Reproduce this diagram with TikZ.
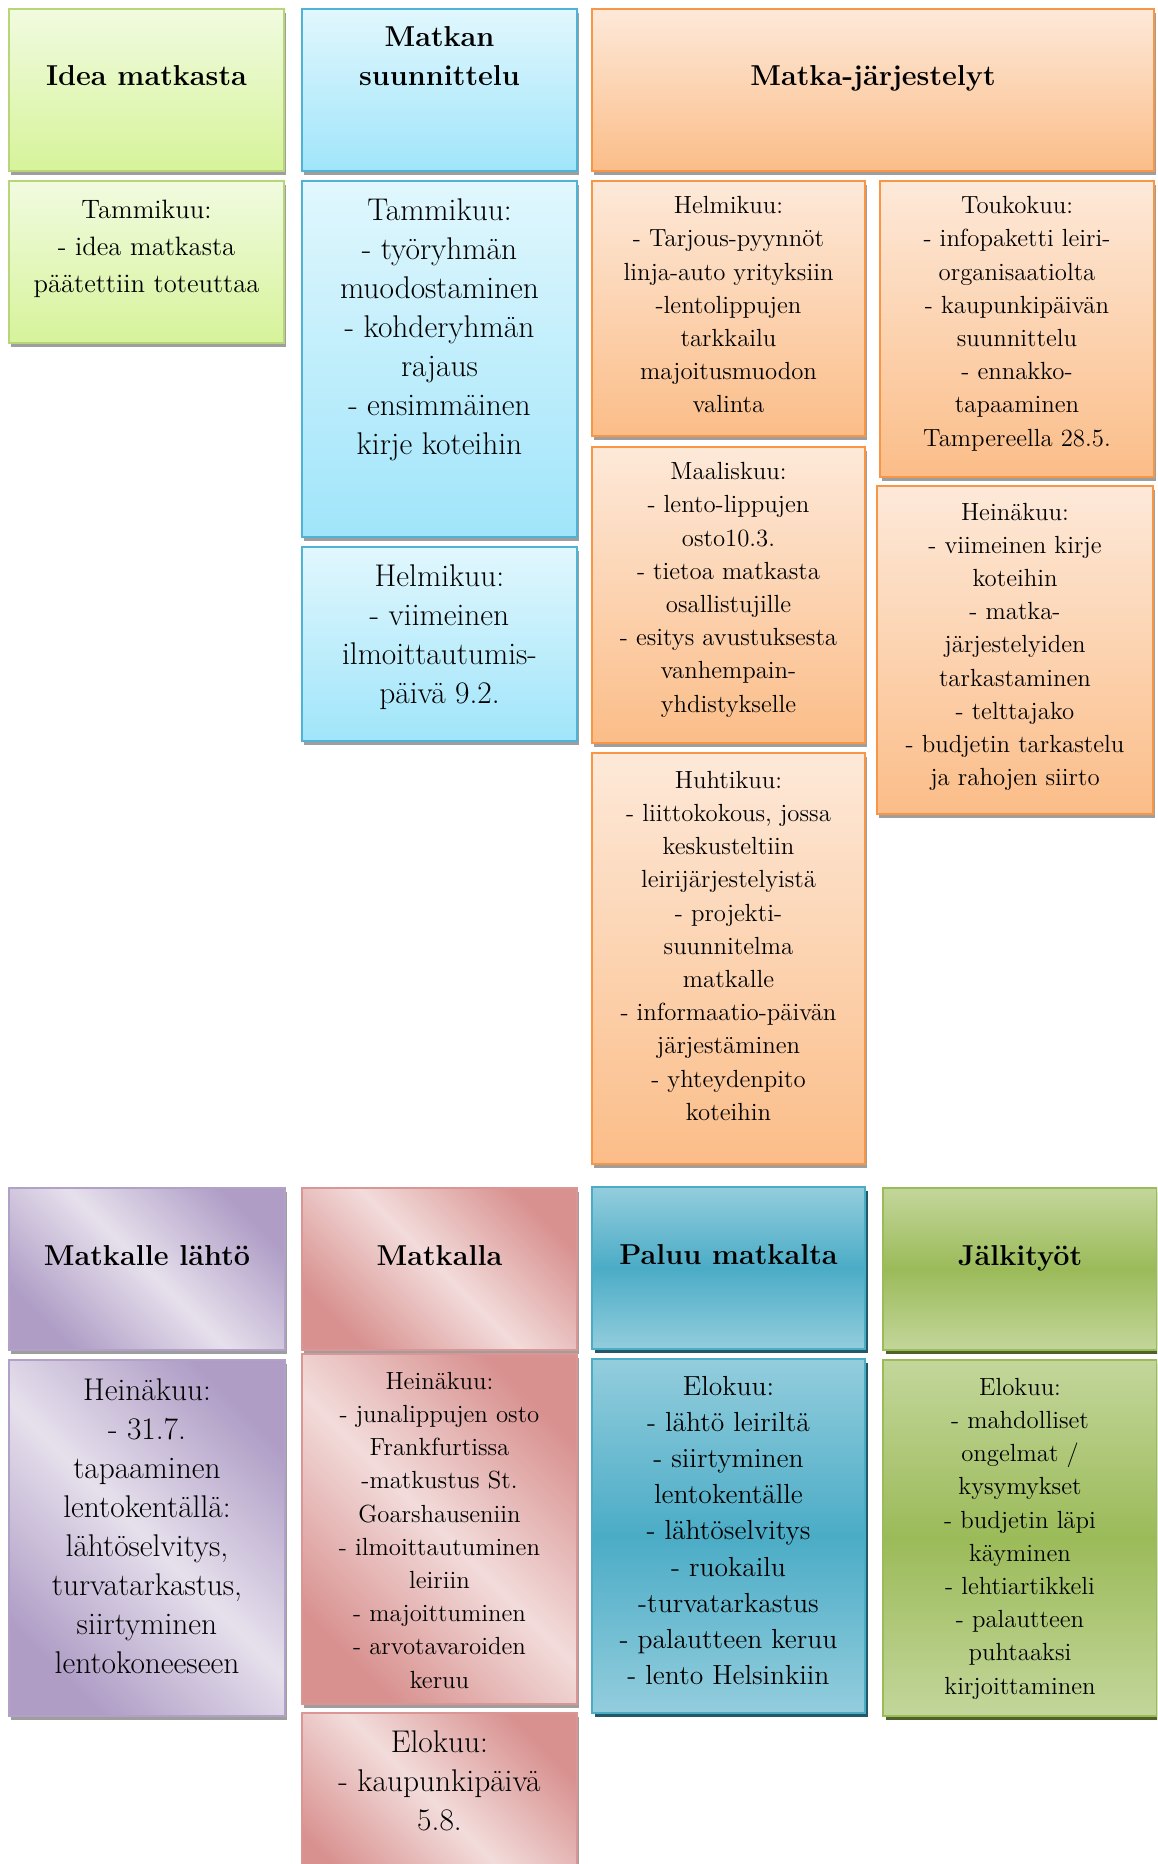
\documentclass[tikz,border=0pt]{standalone}
\usepackage{fontspec}
\usepackage{tikz}
\usetikzlibrary{positioning}
\usetikzlibrary{shadows}
\usepackage{xcolor}

\definecolor{idea_top}{HTML}{F1FBE0}
\definecolor{idea_bot}{HTML}{D6F39A}
\definecolor{idea_line}{HTML}{B9D57A}
\definecolor{plan_top}{HTML}{E1F7FD}
\definecolor{plan_bot}{HTML}{A0E5FA}
\definecolor{plan_line}{HTML}{4FB3D6}
\definecolor{arr_top}{HTML}{FDE9D9}
\definecolor{arr_bot}{HTML}{FBBD88}
\definecolor{arr_line}{HTML}{F79646}
\definecolor{dep_light}{HTML}{E6E0EC}
\definecolor{dep_dark}{HTML}{AF9DC6}
\definecolor{dep_line}{HTML}{B2A1C7}
\definecolor{trip_light}{HTML}{F2DCDB}
\definecolor{trip_dark}{HTML}{D8918F}
\definecolor{trip_line}{HTML}{D99694}
\definecolor{back_light}{HTML}{93CDDD}
\definecolor{back_dark}{HTML}{4BACC6}
\definecolor{back_shadow}{HTML}{215968}
\definecolor{post_light}{HTML}{C3D69B}
\definecolor{post_dark}{HTML}{9BBB59}
\definecolor{post_shadow}{HTML}{4F6228}

\begin{document}
\begin{tikzpicture}[x=0.5pt, y=-0.5pt]
        % ================= 样式定义 =================
        \tikzset{
            % 方框的共同部分
            box_base/.style={draw, line width=1pt, inner sep=0pt, anchor=north west},
            % 灰色阴影
            grey_shadow/.style={drop shadow={shadow xshift=1pt, shadow yshift=-2.2pt, fill=black!38, opacity=1}},
            % 各阶段的颜色
            idea_box/.style={box_base, grey_shadow, draw=idea_line, top color=idea_top, bottom color=idea_bot},
            plan_box/.style={box_base, grey_shadow, draw=plan_line, top color=plan_top, bottom color=plan_bot},
            arr_box/.style={box_base, grey_shadow, draw=arr_line, top color=arr_top, bottom color=arr_bot},
            dep_box/.style={box_base, grey_shadow, draw=dep_line, top color=dep_dark, bottom color=dep_dark, middle color=dep_light, shading angle=-45},
            trip_box/.style={box_base, grey_shadow, draw=trip_line, top color=trip_dark, bottom color=trip_dark, middle color=trip_light, shading angle=-45},
            back_box/.style={box_base, draw=back_dark, top color=back_light, bottom color=back_light, middle color=back_dark,
                drop shadow={shadow xshift=1.5pt, shadow yshift=-2pt, fill=back_shadow, opacity=1}},
            post_box/.style={box_base, draw=post_dark, top color=post_light, bottom color=post_light, middle color=post_dark,
                drop shadow={shadow xshift=1.5pt, shadow yshift=-2pt, fill=post_shadow, opacity=1}},
            % 文字
            head_txt/.style={inner sep=0pt, align=center, font=\bfseries\fontsize{14.4}{19.5}\selectfont},
            big_txt/.style={inner sep=0pt, align=center, font=\fontsize{15.7}{19.5}\selectfont},
            idea_txt/.style={inner sep=0pt, align=center, font=\fontsize{13.3}{18.4}\selectfont},
            mid_txt/.style={inner sep=0pt, align=center, font=\fontsize{13.8}{18.1}\selectfont},
            small_txt/.style={inner sep=0pt, align=center, font=\fontsize{12.4}{16.6}\selectfont}
        }

        \useasboundingbox (0,0) rectangle (1157,1864);
        \clip (0,0) rectangle (1157,1864);

        % ================= 上排:标题 =================
        \node[idea_box, minimum width=137.5pt, minimum height=81pt] (h1) at (8,8) {};
        \node[plan_box, minimum width=137.5pt, minimum height=81pt] (h2) at (301,8) {};
        \node[arr_box, minimum width=281pt, minimum height=81pt] (h3) at (591,8) {};
        \node[head_txt, below=28.8pt of h1.north] (t1) {Idea matkasta};
        \node[head_txt, below=9.3pt of h2.north] (t2) {Matkan\\suunnittelu};
        \node[head_txt, below=28.8pt of h3.north] (t3) {Matka-järjestelyt};

        % ================= 上排:内容 =================
        \node[idea_box, minimum width=137.5pt, minimum height=81pt] (c11) at (8,180) {};
        \node[idea_txt, below=10pt of c11.north] {Tammikuu:\\- idea matkasta\\päätettiin toteuttaa};

        \node[plan_box, minimum width=137.5pt, minimum height=178pt] (c21) at (301,180) {};
        \node[big_txt, below=9.2pt of c21.north] {Tammikuu:\\- työryhmän\\muodostaminen\\- kohderyhmän\\rajaus\\- ensimmäinen\\kirje koteihin};
        \node[plan_box, minimum width=137.5pt, minimum height=97pt] (c22) at (301,546) {};
        \node[big_txt, below=9.2pt of c22.north] {Helmikuu:\\- viimeinen\\ilmoittautumis-\\päivä 9.2.};

        \node[arr_box, minimum width=136.5pt, minimum height=127.5pt] (c31) at (591,180) {};
        \node[small_txt, below=8pt of c31.north] {Helmikuu:\\- Tarjous-pyynnöt\\linja-auto yrityksiin\\-lentolippujen\\tarkkailu\\majoitusmuodon\\valinta};
        \node[arr_box, minimum width=136.5pt, minimum height=148pt] (c32) at (591,446) {};
        \node[small_txt, below=8pt of c32.north] {Maaliskuu:\\- lento-lippujen\\osto10.3.\\- tietoa matkasta\\osallistujille\\- esitys avustuksesta\\vanhempain-\\yhdistykselle};
        \node[arr_box, minimum width=136.5pt, minimum height=205.5pt] (c33) at (591,752) {};
        \node[small_txt, below=9.3pt of c33.north] {Huhtikuu:\\- liittokokous, jossa\\keskusteltiin\\leirijärjestelyistä\\- projekti-\\suunnitelma\\matkalle\\- informaatio-päivän\\järjestäminen\\- yhteydenpito\\koteihin};

        \node[arr_box, minimum width=137pt, minimum height=148pt] (c41) at (879,180) {};
        \node[small_txt, below=8pt of c41.north] {Toukokuu:\\- infopaketti leiri-\\organisaatiolta\\- kaupunkipäivän\\suunnittelu\\- ennakko-\\tapaaminen\\Tampereella 28.5.};
        \node[arr_box, minimum width=138pt, minimum height=164pt] (c42) at (876,485) {};
        \node[small_txt, below=8.7pt of c42.north] {Heinäkuu:\\- viimeinen kirje\\koteihin\\- matka-\\järjestelyiden\\tarkastaminen\\- telttajako\\- budjetin tarkastelu\\ja rahojen siirto};

        % ================= 下排:标题 =================
        \node[dep_box, minimum width=138pt, minimum height=81pt] (h5) at (8,1187) {};
        \node[trip_box, minimum width=137.5pt, minimum height=81pt] (h6) at (301,1187) {};
        \node[back_box, minimum width=136.5pt, minimum height=81pt] (h7) at (591,1186) {};
        \node[post_box, minimum width=137pt, minimum height=81pt] (h8) at (882,1187) {};
        \node[head_txt, below=28.8pt of h5.north] (t5) {Matkalle lähtö};
        \node[head_txt, below=28.8pt of h6.north] (t6) {Matkalla};
        \node[head_txt, below=28.8pt of h7.north] (t7) {Paluu matkalta};
        \node[head_txt, below=28.8pt of h8.north] (t8) {Jälkityöt};

        % ================= 下排:内容 =================
        \node[dep_box, minimum width=138pt, minimum height=178pt] (c51) at (8,1359) {};
        \node[big_txt, below=9.8pt of c51.north] {Heinäkuu:\\- 31.7.\\tapaaminen\\lentokentällä:\\lähtöselvitys,\\turvatarkastus,\\siirtyminen\\lentokoneeseen};

        \node[trip_box, minimum width=137.5pt, minimum height=175pt] (c61) at (301,1353) {};
        \node[small_txt, below=9.3pt of c61.north] {Heinäkuu:\\- junalippujen osto\\Frankfurtissa\\-matkustus St.\\Goarshauseniin\\- ilmoittautuminen\\leiriin\\- majoittuminen\\- arvotavaroiden\\keruu};
        \node[trip_box, minimum width=137.5pt, minimum height=95pt] (c62) at (301,1712) {};
        \node[big_txt, below=9.2pt of c62.north] {Elokuu:\\- kaupunkipäivä\\5.8.};

        \node[back_box, minimum width=136.5pt, minimum height=177pt] (c71) at (591,1358) {};
        \node[mid_txt, below=8.8pt of c71.north] {Elokuu:\\- lähtö leiriltä\\- siirtyminen\\lentokentälle\\- lähtöselvitys\\- ruokailu\\-turvatarkastus\\- palautteen keruu\\- lento Helsinkiin};

        \node[post_box, minimum width=137pt, minimum height=178pt] (c81) at (882,1359) {};
        \node[small_txt, below=9.3pt of c81.north] {Elokuu:\\- mahdolliset\\ongelmat /\\kysymykset\\- budjetin läpi\\käyminen\\- lehtiartikkeli\\- palautteen\\puhtaaksi\\kirjoittaminen};

    \end{tikzpicture}
\end{document}
